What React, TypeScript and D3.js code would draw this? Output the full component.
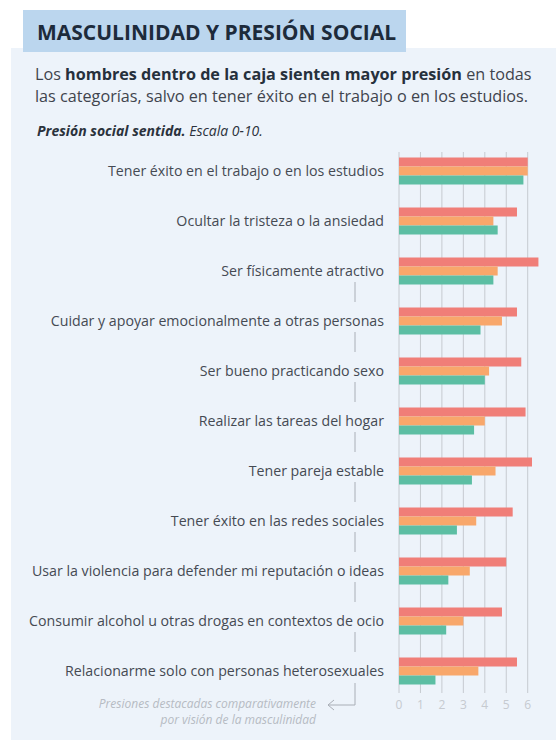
import * as d3 from "d3";
import React from "react";

const categories = [
  "Tener éxito en el trabajo o en los estudios",
  "Ocultar la tristeza o la ansiedad",
  "Ser físicamente atractivo",
  "Cuidar y apoyar emocionalmente a otras personas",
  "Ser bueno practicando sexo",
  "Realizar las tareas del hogar",
  "Tener pareja estable",
  "Tener éxito en las redes sociales",
  "Usar la violencia para defender mi reputación o ideas",
  "Consumir alcohol u otras drogas en contextos de ocio",
  "Relacionarme solo con personas heterosexuales",
];

const seriesKeys = ["dentro", "intermedio", "fuera"];
const dentro = [6.0, 5.5, 6.5, 5.5, 5.7, 5.9, 6.2, 5.3, 5.0, 4.8, 5.5];
const intermedio = [6.0, 4.4, 4.6, 4.8, 4.2, 4.0, 4.5, 3.6, 3.3, 3.0, 3.7];
const fuera = [5.8, 4.6, 4.4, 3.8, 4.0, 3.5, 3.4, 2.7, 2.3, 2.2, 1.7];
const seriesValues = [dentro, intermedio, fuera];
const seriesColors = ["#f07e78", "#f8a76b", "#5cbea3"];

const ticks = [0, 1, 2, 3, 4, 5, 6];
// categories with the bracket running down from "Ser físicamente atractivo"
const bracketFrom = 2;

const W = 559;
const H = 751;
const font = "'Open Sans', sans-serif";

export default function App() {
  const x = d3.scaleLinear().domain([0, 6]).range([399, 527.7]);
  const y = d3.scaleBand().domain(categories).range([146, 696]);
  const sub = d3.scaleBand().domain(seriesKeys).range([0, 27]);
  const barH = 9;

  const center = (c: string) => (y(c) ?? 0) + y.bandwidth() / 2;
  const bx = 355;

  return (
    <div style={{ position: "absolute", left: 0, top: 0 }}>
      <svg width={W} height={H} style={{ display: "block", fontFamily: font }}>
        <rect x={0} y={0} width={W} height={H} fill="#ffffff" />
        <rect x={11} y={48} width={545} height={692} fill="#edf3fa" />
        <rect x={23} y={10} width={383} height={42} fill="#bbd6ee" />
        <text x={37} y={40} fontSize={21} fontWeight={700} fill="#1d2b3b">
          MASCULINIDAD Y PRESIÓN SOCIAL
        </text>

        <text x={35} y={80} fontSize={16.2} fill="#3f444d">
          Los <tspan fontWeight={700} fill="#26303c">hombres dentro de la caja sienten mayor presión</tspan> en todas
        </text>
        <text x={35} y={102} fontSize={16.2} fill="#3f444d">
          las categorías, salvo en tener éxito en el trabajo o en los estudios.
        </text>

        <text x={37} y={136} fontSize={14} fontStyle="italic" fill="#2b323c">
          <tspan fontWeight={700}>Presión social sentida.</tspan> Escala 0-10.
        </text>

        {ticks.map((t) => (
          <line key={"g" + t} x1={x(t)} x2={x(t)} y1={152} y2={693} stroke="#c6cad0" strokeWidth={1} />
        ))}

        {categories.map((c, i) => (
          <g key={c}>
            {seriesKeys.map((k, j) => (
              <rect
                key={k}
                x={x(0)}
                y={center(c) - 13.5 + (sub(k) ?? 0)}
                width={x(seriesValues[j][i]) - x(0)}
                height={barH}
                fill={seriesColors[j]}
              />
            ))}
            <text x={384} y={center(c)} dy="0.35em" textAnchor="end" fontSize={14.2} fill="#454a53">
              {c}
            </text>
          </g>
        ))}

        {categories.slice(bracketFrom, categories.length - 1).map((c) => (
          <line key={"b" + c} x1={bx} x2={bx} y1={center(c) + 11} y2={center(c) + 31} stroke="#a9aeb6" strokeWidth={1} />
        ))}
        <path
          d={`M${bx},${center(categories[categories.length - 1]) + 12} V705 H328 M334,700 L328,705 L334,710`}
          fill="none"
          stroke="#a9aeb6"
          strokeWidth={1}
        />
        <text x={316} y={708} textAnchor="end" fontSize={12} fontStyle="italic" fill="#b6bbc3">
          Presiones destacadas comparativamente
        </text>
        <text x={316} y={724} textAnchor="end" fontSize={12} fontStyle="italic" fill="#b6bbc3">
          por visión de la masculinidad
        </text>

        {ticks.map((t) => (
          <text key={"t" + t} x={x(t)} y={709} textAnchor="middle" fontSize={12} fill="#c6cad0">
            {t}
          </text>
        ))}
      </svg>
    </div>
  );
}
